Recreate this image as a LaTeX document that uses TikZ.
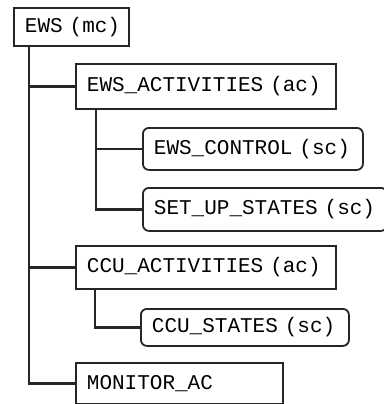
\documentclass[tikz,border=0pt]{standalone}
\usepackage{fontspec}
\newfontfamily\chartfont{Liberation Mono}
\usetikzlibrary{calc}

\begin{document}
\begin{tikzpicture}[
      x=1pt, y=-1pt, % pixel grid, y downwards
      link/.style={draw=black!85, line width=2.4pt}, % tree lines
      chartbox/.style={draw=black!85, line width=1.8pt, fill=white,
        anchor=north west, align=left, inner xsep=11pt, inner ysep=0pt,
        font=\chartfont\fontsize{21}{24}\selectfont},
      acbox/.style={chartbox}, % plain box
      scbox/.style={chartbox, rounded corners=6pt}, % rounded box
    ]

    \useasboundingbox (0,0) rectangle (383,404);

    % Kästen
    \node[acbox, text width=93pt, minimum height=38pt] (ews) at (13,7) {\rlap{EWS (mc)}};
    \node[acbox, text width=238pt, minimum height=45pt] (ewsact) at (75,63) {EWS\_ACTIVITIES (ac)};
    \node[scbox, text width=198pt, minimum height=42pt] (ewsctl) at (142,127) {EWS\_CONTROL (sc)};
    \node[scbox, text width=222pt, minimum height=43pt] (setup) at (142,187) {SET\_UP\_STATES (sc)};
    \node[acbox, text width=238pt, minimum height=43pt] (ccuact) at (75,245) {CCU\_ACTIVITIES (ac)};
    \node[scbox, text width=186pt, minimum height=37pt] (ccust) at (140,308) {CCU\_STATES (sc)};
    \node[acbox, text width=185pt, minimum height=41pt] (mon) at (75,362) {MONITOR\_AC};

    % Linien
    \foreach \j in {ewsact, ccuact, mon}
    \draw[link] ([xshift=16pt]ews.south west) |- (\j.west);

    \foreach \j in {ewsctl, setup}
    \draw[link] ([xshift=21pt]ewsact.south west) |- (\j.west);

    \draw[link] ([xshift=20pt]ccuact.south west) |- (ccust.west);
  \end{tikzpicture}
\end{document}
